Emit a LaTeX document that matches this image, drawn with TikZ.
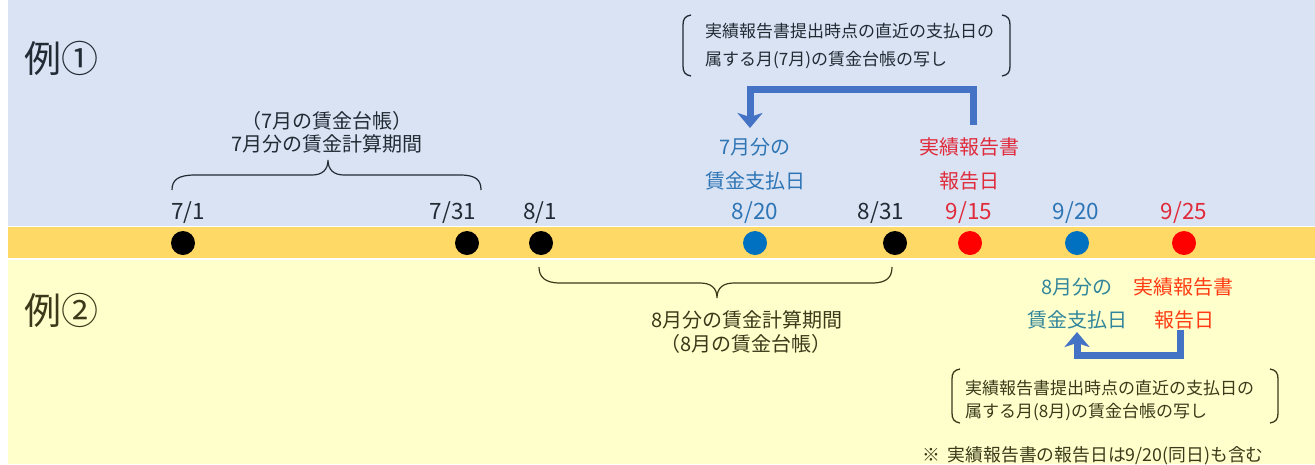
\documentclass[tikz,border=0pt]{standalone}
\usepackage{fontspec}
\setmainfont{Noto Sans CJK JP}
\usetikzlibrary{arrows.meta}
\definecolor{bgblue}{HTML}{DAE3F3}
\definecolor{bandc}{HTML}{FFD966}
\definecolor{bgyel}{HTML}{FFFFCC}
\definecolor{txtA}{HTML}{222A35}
\definecolor{txtB}{HTML}{3A3A1A}
\definecolor{bluetxt}{HTML}{2E75B6}
\definecolor{redtxt}{HTML}{E02B3C}
\definecolor{orred}{HTML}{FF3C14}
\definecolor{tealtxt}{HTML}{31869B}
\definecolor{dotblue}{HTML}{0070C0}
\definecolor{dotred}{HTML}{FF0000}
\definecolor{arrc}{HTML}{4472C4}
\tikzset{
  lbl/.style={inner sep=0pt, font=\fontsize{20}{24}\selectfont},
  datelbl/.style={inner sep=0pt, font=\fontsize{22.5}{26}\selectfont},
  smalllbl/.style={inner sep=0pt, font=\fontsize{17}{20}\selectfont, anchor=west},
  notelbl/.style={inner sep=0pt, font=\fontsize{17.8}{20}\selectfont, anchor=west},
  biglbl/.style={inner sep=0pt, font=\fontsize{37}{42}\selectfont, anchor=west},
  dotnode/.style={circle, minimum size=24pt, inner sep=0pt},
  bigarrow/.style={draw=arrc, line width=7pt, line join=miter, -{Stealth[length=15pt,width=25pt,inset=4pt]}},
  bracestyle/.style={line width=1.2pt},
  brkstyle/.style={line width=1.3pt, draw=txtA},
}
\begin{document}
\begin{tikzpicture}[x=1pt,y=-1pt]
\useasboundingbox (0,0) rectangle (1315,464);
\fill[bgblue] (8,0) rectangle (1315,226);
\fill[bandc] (8,227) rectangle (1315,258.3);
\fill[bgyel] (8,259.7) rectangle (1315,464);

% example labels
\node[biglbl, text=txtA] (ex1) at (24,58) {例①};
\node[biglbl, text=txtB] (ex2) at (24,310) {例②};

% dots
\node[dotnode, fill=black] (d1) at (183,243) {};
\node[dotnode, fill=black] (d2) at (467,243) {};
\node[dotnode, fill=black] (d3) at (541,243) {};
\node[dotnode, fill=dotblue] (d4) at (755,243) {};
\node[dotnode, fill=black] (d5) at (895,243) {};
\node[dotnode, fill=dotred] (d6) at (970,243) {};
\node[dotnode, fill=dotblue] (d7) at (1077,243) {};
\node[dotnode, fill=dotred] (d8) at (1184,243) {};

% date labels
\node[datelbl, text=txtA] (l1) at (188,213) {7/1};
\node[datelbl, text=txtA] (l2) at (453,213) {7/31};
\node[datelbl, text=txtA] (l3) at (540,213) {8/1};
\node[datelbl, text=bluetxt] (l4) at (755,213) {8/20};
\node[datelbl, text=txtA] (l5) at (881,213) {8/31};
\node[datelbl, text=redtxt] (l6) at (969,213) {9/15};
\node[datelbl, text=bluetxt] (l7) at (1076,213) {9/20};
\node[datelbl, text=redtxt] (l8) at (1184,213) {9/25};

% top brace
\draw[bracestyle, draw=txtA] (172,190) .. controls (172,180) and (178,175) .. (195,175) -- (312,175)
  .. controls (322,175) and (328,170) .. (328,160) .. controls (328,170) and (334,175) .. (344,175)
  -- (460,175) .. controls (476,175) and (481,180) .. (481,190);
\node[lbl, text=txtA] (p7a) at (327,121) {（7月の賃金台帳）};
\node[lbl, text=txtA] (p7b) at (327,144) {7月分の賃金計算期間};

% bottom brace
\draw[bracestyle, draw=txtB] (539,267) .. controls (539,277) and (545,283) .. (560,283) -- (700,283)
  .. controls (711,283) and (717,288) .. (717,298) .. controls (717,288) and (723,283) .. (734,283)
  -- (872,283) .. controls (887,283) and (892,277) .. (892,267);
\node[lbl, text=txtB] (p8a) at (747,320) {8月分の賃金計算期間};
\node[lbl, text=txtB] (p8b) at (746,344) {（8月の賃金台帳）};

% top labels
\node[lbl, text=bluetxt] (pay1a) at (755,147) {7月分の};
\node[lbl, text=bluetxt] (pay1b) at (755,181) {賃金支払日};
\node[lbl, text=redtxt] (rep1a) at (969,147) {実績報告書};
\node[lbl, text=redtxt] (rep1b) at (969,181) {報告日};

% bottom labels
\node[lbl, text=tealtxt] (pay2a) at (1077,287) {8月分の};
\node[lbl, text=tealtxt] (pay2b) at (1077,320) {賃金支払日};
\node[lbl, text=orred] (rep2a) at (1183,287) {実績報告書};
\node[lbl, text=orred] (rep2b) at (1184,320) {報告日};

% top callout
\draw[brkstyle] (691,15) .. controls (685,16) and (683,19) .. (683,25) -- (683,66) .. controls (683,72) and (685,75) .. (691,76);
\draw[brkstyle] (1002,15) .. controls (1008,16) and (1010,19) .. (1010,25) -- (1010,66) .. controls (1010,72) and (1008,75) .. (1002,76);
\node[smalllbl, text=txtA] (c1a) at (705,31) {実績報告書提出時点の直近の支払日の};
\node[smalllbl, text=txtA] (c1b) at (705,60) {属する月(7月)の賃金台帳の写し};

% bottom callout
\draw[brkstyle, draw=txtB] (960,369) .. controls (954,370) and (952,373) .. (952,379) -- (952,413) .. controls (952,419) and (954,422) .. (960,423);
\draw[brkstyle, draw=txtB] (1270,369) .. controls (1276,370) and (1278,373) .. (1278,379) -- (1278,413) .. controls (1278,419) and (1276,422) .. (1270,423);
\node[smalllbl, text=txtB] (c2a) at (965,388) {実績報告書提出時点の直近の支払日の};
\node[smalllbl, text=txtB] (c2b) at (965,412) {属する月(8月)の賃金台帳の写し};

% note
\node[notelbl, text=txtB] (note) at (922,456) {※\ \ 実績報告書の報告日は9/20(同日)も含む};

% arrows
\coordinate (a1s) at (973,125);
\coordinate (a1m) at (860,89);
\coordinate (a1e) at (750,128);
\draw[bigarrow] (a1s) |- (a1m) -| (a1e);

\coordinate (a2s) at (1180,330);
\coordinate (a2m) at (1130,355);
\coordinate (a2e) at (1077,332);
\draw[bigarrow] (a2s) |- (a2m) -| (a2e);
\end{tikzpicture}
\end{document}
